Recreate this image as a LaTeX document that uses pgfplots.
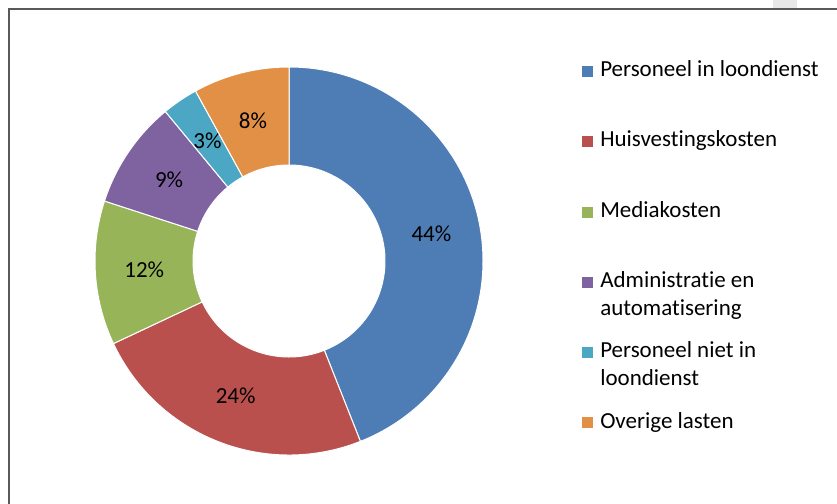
\documentclass[border=0pt]{standalone}
\usepackage{pgfplots}
\pgfplotsset{compat=1.18}
\usepackage{fontspec}
\setmainfont{Carlito}[Ligatures={NoCommon}]

% slice colours (Excel 2007 look)
\definecolor{c1}{HTML}{4E7DB5}
\definecolor{c2}{HTML}{BA504E}
\definecolor{c3}{HTML}{98B459}
\definecolor{c4}{HTML}{7F63A1}
\definecolor{c5}{HTML}{4BA7C3}
\definecolor{c6}{HTML}{E39047}
\definecolor{frame}{HTML}{595959}

% axis units are image pixels, y measured upwards
\def\cx{289}\def\cy{243}
\def\Ro{145.5bp}  % outer radius 194 px
\def\Ri{72bp}     % inner radius 96 px
\def\Rd{73.5bp}
\def\Rl{108.75bp} % label radius 145 px
\def\lbl{\fontsize{17.3}{20}\selectfont}

% shares in percent, clockwise from the top
\def\shares{44,24,12,9,3,8}
\xdef\acc{90}
\foreach \v [count=\i] in \shares {%
  \pgfmathsetmacro\e{\acc-3.6*\v}%
  \pgfmathsetmacro\m{\acc-1.8*\v}%
  \expandafter\xdef\csname s\i\endcsname{\acc}%
  \expandafter\xdef\csname e\i\endcsname{\e}%
  \expandafter\xdef\csname m\i\endcsname{\m}%
  \expandafter\xdef\csname v\i\endcsname{\v}%
  \xdef\acc{\e}%
}

\begin{document}
\begin{tikzpicture}
\begin{axis}[
    hide axis,
    x=0.75bp, y=0.75bp,
    xmin=0, xmax=837,
    ymin=0, ymax=504,
    clip=false,
]
\coordinate (sw) at (axis cs:0,0);
\coordinate (ne) at (axis cs:837,504);

% chart frame
\fill[black!9] (axis cs:773,504) rectangle (axis cs:797,494.5);
\draw[frame, line width=1.5bp] (axis cs:9,0) -- (axis cs:9,494.5) -- (axis cs:840,494.5);

% donut slices and their labels
\pgfplotsinvokeforeach{1,...,6}{
  \filldraw[fill=c#1, draw=white, line width=0.75bp]
    (axis cs:\cx,\cy) ++(\csname s#1\endcsname:\Ro)
    arc[start angle=\csname s#1\endcsname, end angle=\csname e#1\endcsname, radius=\Ro]
    -- ++(\csname e#1\endcsname+180:\Rd)
    arc[start angle=\csname e#1\endcsname, end angle=\csname s#1\endcsname, radius=\Ri]
    -- cycle;
  \path (axis cs:\cx,\cy) ++(\csname m#1\endcsname:\Rl)
    node[font=\lbl, inner sep=0pt] {\csname v#1\endcsname\%};
}

% legend
\fill[c1] (axis cs:582,426.5) rectangle (axis cs:593,437.5);
\fill[c2] (axis cs:582,356.5) rectangle (axis cs:593,367.5);
\fill[c3] (axis cs:582,285.5) rectangle (axis cs:593,296.5);
\fill[c4] (axis cs:582,215.5) rectangle (axis cs:593,226.5);
\fill[c5] (axis cs:582,145.5) rectangle (axis cs:593,156.5);
\fill[c6] (axis cs:582,75.5) rectangle (axis cs:593,86.5);
\begin{scope}[every node/.style={anchor=base west, inner sep=0pt, font=\lbl}]
\node at (axis cs:600,427) {Personeel in loondienst};
\node at (axis cs:600,357) {Huisvestingskosten};
\node at (axis cs:600,286) {Mediakosten};
\node at (axis cs:600,216) {Administratie en};
\node at (axis cs:600,188) {automatisering};
\node at (axis cs:600,146) {Personeel niet in};
\node at (axis cs:600,118) {loondienst};
\node at (axis cs:600,76) {Overige lasten};
\end{scope}
\end{axis}
\pgfresetboundingbox
\path (sw) rectangle (ne);
\end{tikzpicture}
\end{document}
